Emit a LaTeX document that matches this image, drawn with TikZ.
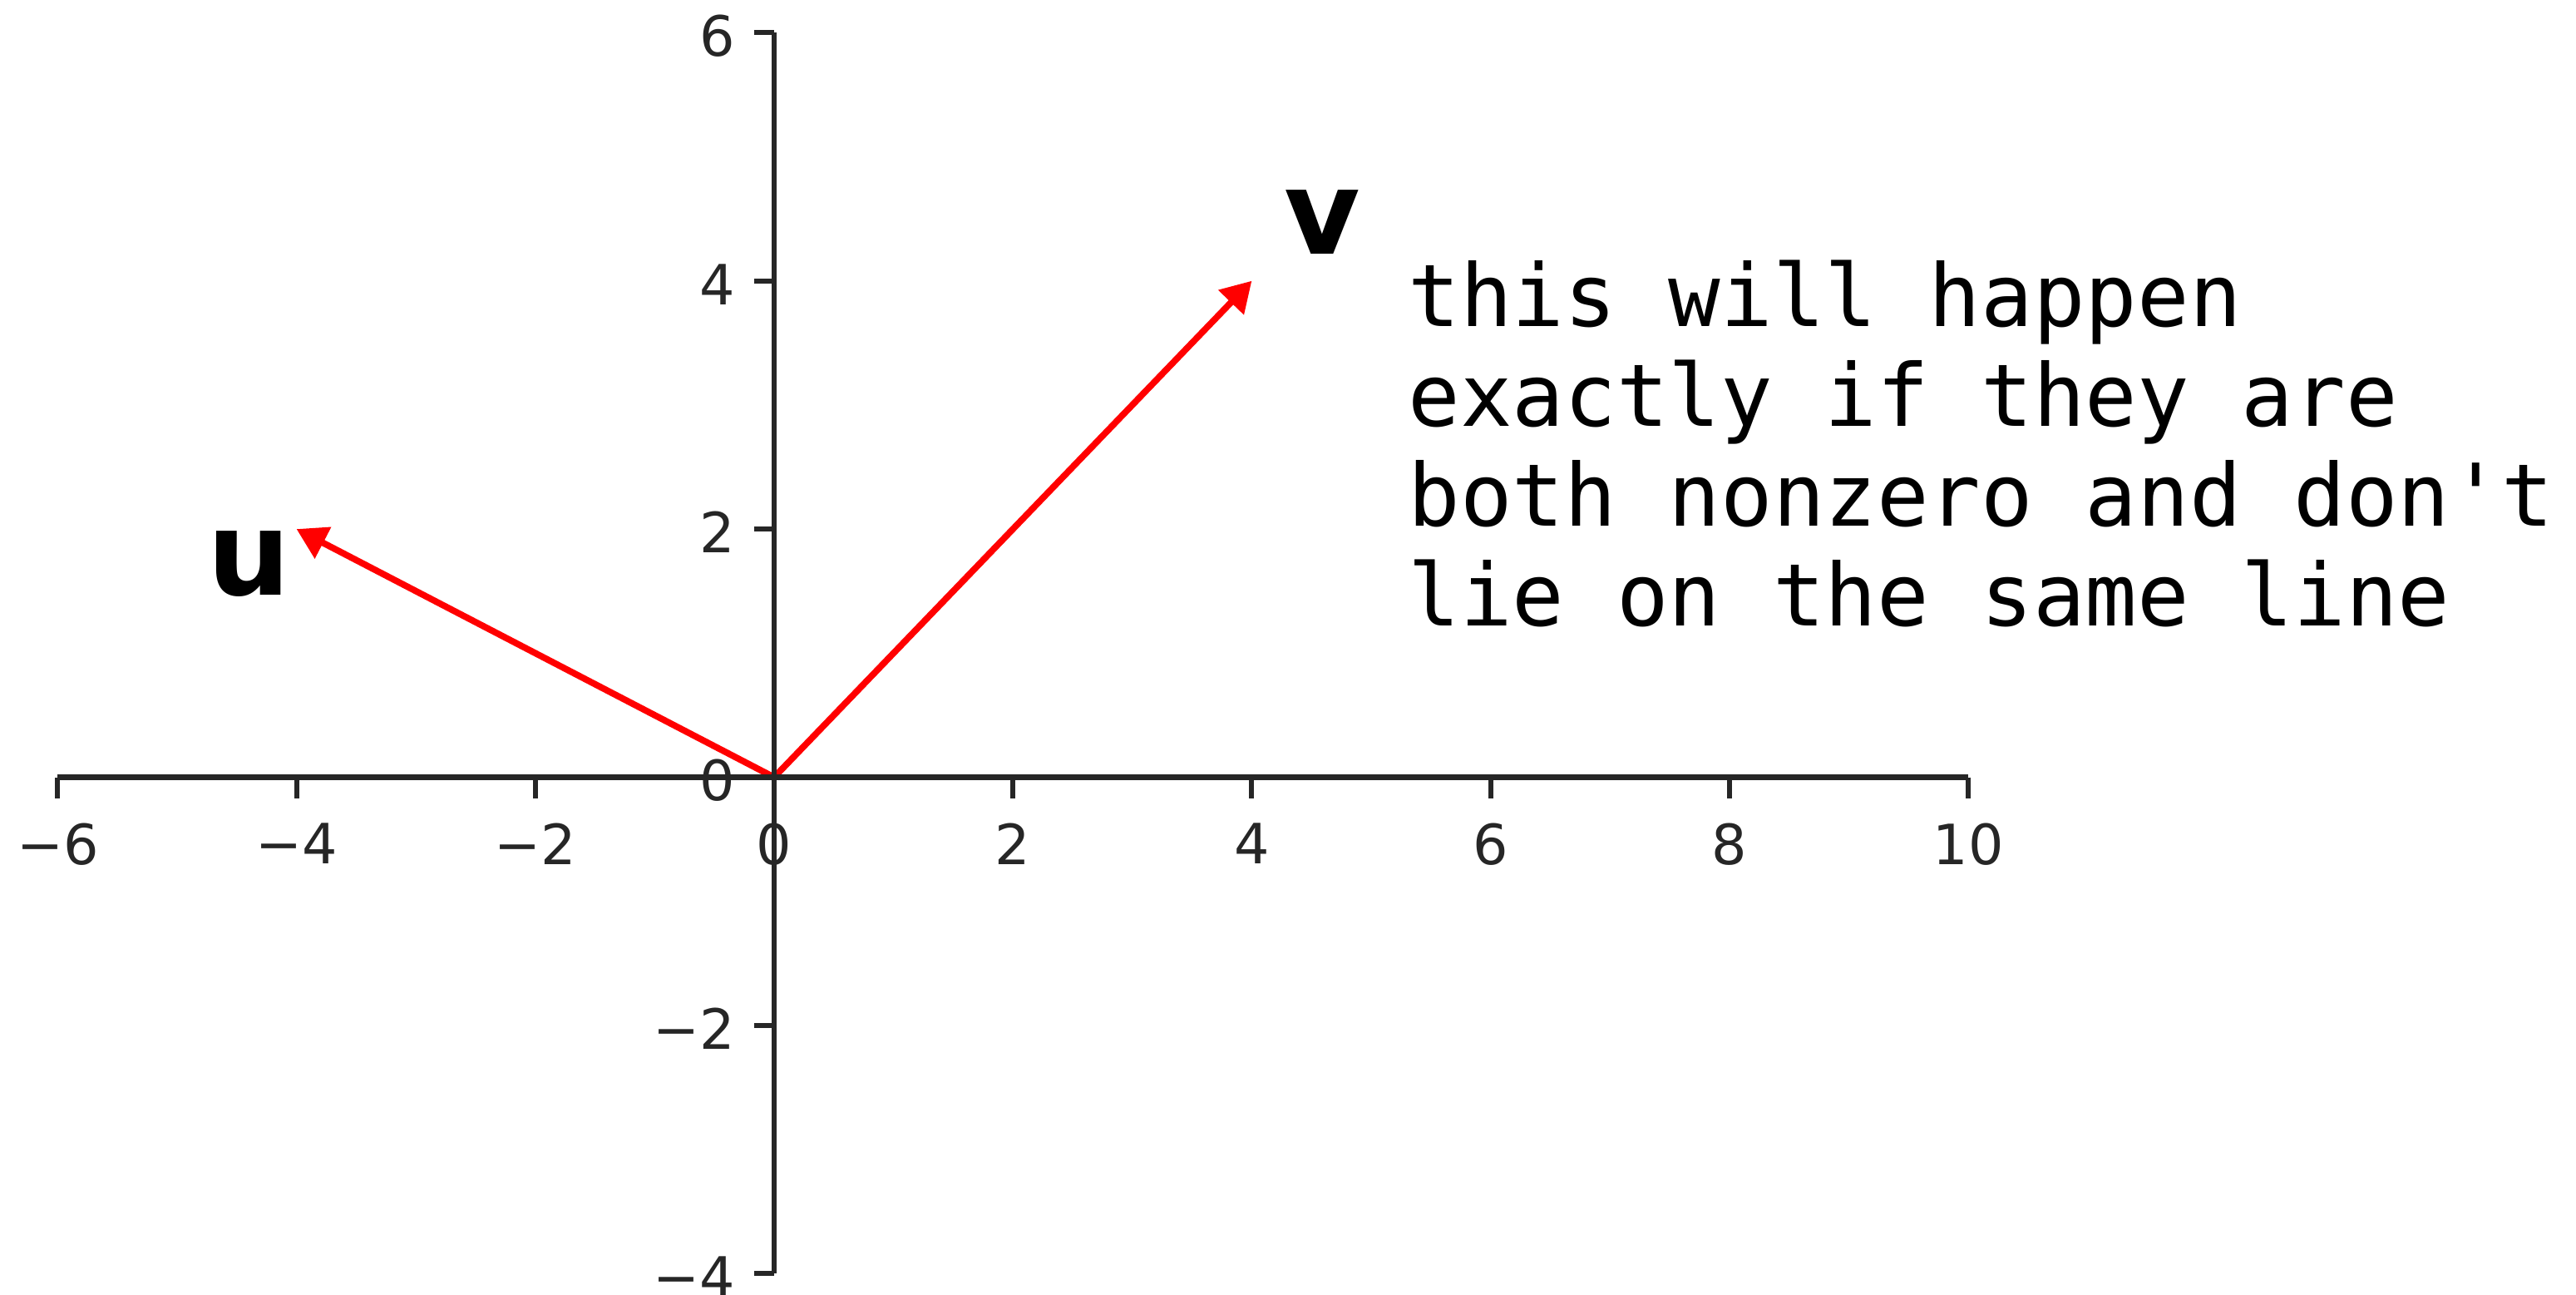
\documentclass[tikz,border=0pt]{standalone}
\usepackage{fontspec}
\setmainfont{DejaVu Sans}
\newfontfamily\monofont{DejaVu Sans Mono}[Ligatures=TeXOff]
\usetikzlibrary{arrows.meta}
\definecolor{axisgray}{HTML}{262626}
\definecolor{vecred}{HTML}{FF0000}
\begin{document}
\begin{tikzpicture}[x=1.436cm, y=1.492cm,
  axisline/.style={draw=axisgray, line width=1.85pt, line cap=butt},
  tickmark/.style={draw=axisgray, line width=1.7pt},
  ticklabel/.style={font=\fontsize{19}{22}\selectfont, inner sep=0pt, text=axisgray},
  vecarrow/.style={draw=vecred, line width=2.2pt, -{Triangle[length=0.36cm, width=0.41cm]}},
  veclabel/.style={font=\fontsize{40}{48}\selectfont\bfseries, inner sep=0pt},
  note/.style={font=\fontsize{29.6}{34.14}\selectfont\monofont, align=left, inner sep=0pt, anchor=north west}]
\useasboundingbox (-9.31cm,-6.215cm) rectangle (21.67cm,9.345cm);
\coordinate (O) at (0,0);
\coordinate (xmin) at (-6,0);
\coordinate (xmax) at (10,0);
\coordinate (ymin) at (0,-4);
\coordinate (ymax) at (0,6);
\coordinate (U) at (-4,2);
\coordinate (V) at (4,4);
% vectors
\draw[vecarrow] (O) -- (U);
\draw[vecarrow] (O) -- (V);
% axes
\draw[axisline] (xmin) -- (xmax);
\draw[axisline] (ymin) -- (ymax);
% x ticks
\foreach \x/\t in {-6/−6,-4/−4,-2/−2,0/0,2/2,4/4,6/6,8/8,10/10}{
  \coordinate (xt\x) at (\x,0);
  \draw[tickmark] (xt\x) -- ++(0,-0.25cm);
  \node[ticklabel, anchor=north] (xl\x) at ([yshift=-0.545cm]xt\x) {\t};
}
% y ticks
\foreach \y/\t in {-4/−4,-2/−2,0/0,2/2,4/4,6/6}{
  \coordinate (yt\y) at (0,\y);
  \draw[tickmark] (yt\y) -- ++(-0.24cm,0);
  \node[ticklabel, anchor=east] (yl\y) at ([xshift=-0.46cm,yshift=-0.04cm]yt\y) {\t};
}
\node[veclabel] (ulabel) at (-6.31cm,2.565cm) {u};
\node[veclabel] (vlabel) at (6.59cm,6.675cm) {v};
% note
\node[note] (note) at (7.62cm,6.225cm) {this will happen\\exactly if they are\\both nonzero and don't\\lie on the same line};
\end{tikzpicture}
\end{document}
